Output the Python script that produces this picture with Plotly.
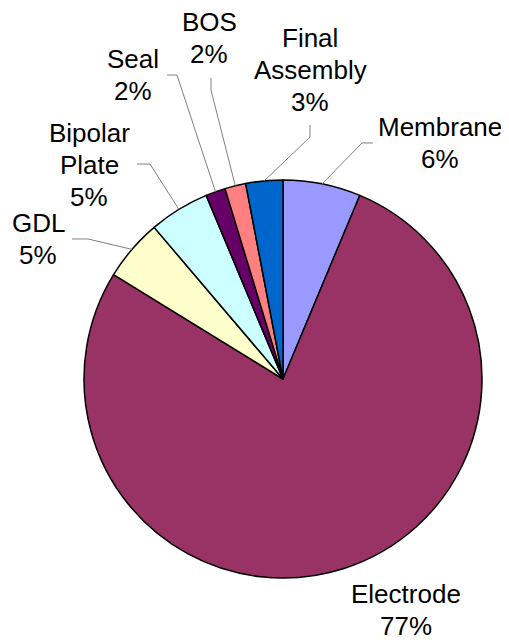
import numpy as np
import plotly.graph_objects as go

W, H = 509, 640
OFF = 8  # page body margin

labels = ['Membrane', 'Electrode', 'GDL', 'Bipolar Plate', 'Seal', 'BOS', 'Final Assembly']
values = [6.3, 77.4, 5.0, 4.9, 1.6, 1.7, 3.0]
colors = ['#9999FF', '#993366', '#FFFFCC', '#CCFFFF', '#660066', '#FF8080', '#0066CC']
label_lines = [['Membrane'], ['Electrode'], ['GDL'], ['Bipolar', 'Plate'], ['Seal'], ['BOS'], ['Final', 'Assembly']]

# pie geometry in page pixels
cx, cy, r = 283, 379, 199
line_h = 32

# label centres (page pixels) and leader elbows (None = no leader)
label_pos = [(440, 143), (406, 610), (38, 239), (89, 165), (133, 75), (209, 38), (310, 70)]
elbows = [
    [(373, 143), (362, 143)],
    None,
    [(72, 239), (88, 239)],
    [(137, 164), (150, 164)],
    [(167, 75), (177, 75)],
    [(211, 78), (211, 90)],
    [(310, 125), (310, 137)],
]


def px(x, y):
    return (x - OFF) / W, 1 - (y - OFF) / H


fig = go.Figure(go.Pie(
    labels=labels,
    values=values,
    marker=dict(colors=colors, line=dict(color='black', width=1.5)),
    sort=False,
    direction='clockwise',
    rotation=0,
    textinfo='none',
    hoverinfo='label+percent',
    showlegend=False,
    domain=dict(x=[(cx - r - OFF) / W, (cx + r - OFF) / W],
                y=[1 - (cy + r - OFF) / H, 1 - (cy - r - OFF) / H]),
))

total = sum(values)
start = 0.0
for i, v in enumerate(values):
    mid = start + v / total * 180.0
    start += v / total * 360.0
    pct = round(v / total * 100)
    lines = label_lines[i] + [f'{pct}%']
    lx, ly = label_pos[i]
    for k, t in enumerate(lines):
        yy = ly + (k - (len(lines) - 1) / 2) * line_h
        ax, ay = px(lx, yy)
        fig.add_annotation(
            x=ax, y=ay, xref='paper', yref='paper', text=t,
            showarrow=False, xanchor='center', yanchor='middle',
            font=dict(family='Liberation Sans, Arial', size=26, color='black'),
        )
    if elbows[i] is not None:
        a = np.radians(mid)
        ex, ey = cx + r * np.sin(a), cy - r * np.cos(a)
        pts = elbows[i] + [(ex, ey)]
        path = 'M ' + ' L '.join(f'{px(x, y)[0]:.4f},{px(x, y)[1]:.4f}' for x, y in pts)
        fig.add_shape(type='path', path=path, xref='paper', yref='paper',
                      line=dict(color='#808080', width=1))

fig.update_layout(
    width=W, height=H,
    margin=dict(l=0, r=0, t=0, b=0),
    paper_bgcolor='white',
    plot_bgcolor='white',
)

fig.write_html("out.html")
